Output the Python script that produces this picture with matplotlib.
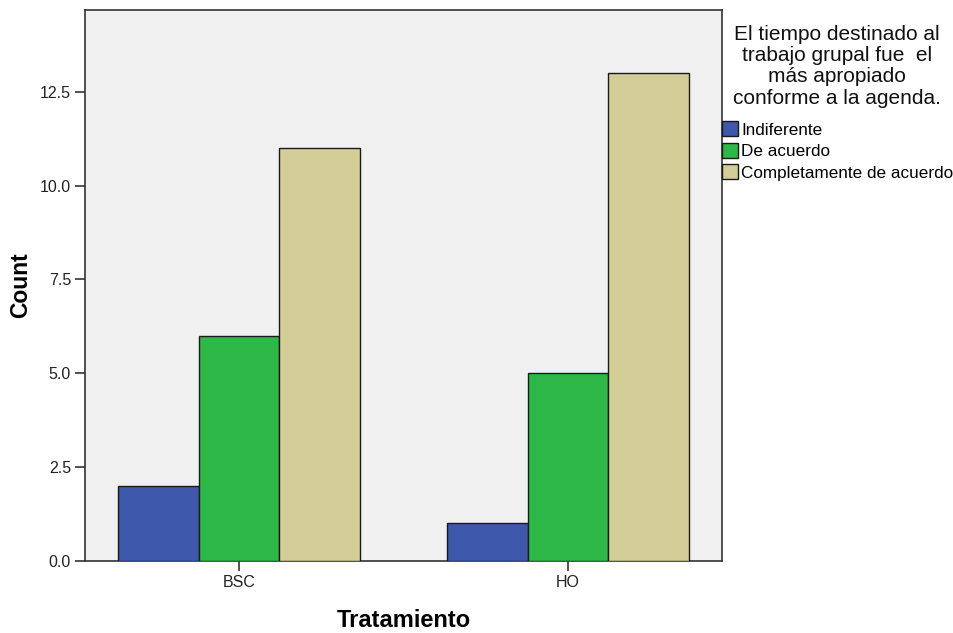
import matplotlib
matplotlib.use("Agg")
import matplotlib.pyplot as plt
import numpy as np

groups = ["BSC", "HO"]
series = ["Indiferente", "De acuerdo", "Completamente de acuerdo"]
values = {
    "Indiferente": [2, 1],
    "De acuerdo": [6, 5],
    "Completamente de acuerdo": [11, 13],
}
colors = ["#3e58ac", "#2eb848", "#d3ce97"]
yticks = [0.0, 2.5, 5.0, 7.5, 10.0, 12.5]
legend_title = "El tiempo destinado al\ntrabajo grupal fue  el\nmás apropiado\nconforme a la agenda."

plt.rcParams['font.family'] = ['Liberation Sans', 'DejaVu Sans']

fig = plt.figure(figsize=(9.54, 6.33), dpi=100)
ax = fig.add_axes([85/954, 1-561/633, (722-85)/954, (561-10)/633])
ax.set_facecolor("#f0f0f0")

x = np.arange(len(groups))
w = 0.246
handles = []
for i, (s, c) in enumerate(zip(series, colors)):
    b = ax.bar(x + (i - 1) * w, values[s], width=w, color=c,
               edgecolor="#1a1a1a", linewidth=1.0, label=s, zorder=3)
    handles.append(b)

ax.set_xlim(-0.468, 1.468)
ax.set_ylim(0, 14.68)
ax.set_xticks(x)
ax.set_xticklabels(groups)
ax.set_yticks(yticks)
ax.set_yticklabels([f"{v:.1f}" for v in yticks])
ax.tick_params(axis='both', length=7, width=1.2, color="#333333",
               labelsize=11.5, labelcolor="#222222", pad=3)
for sp in ax.spines.values():
    sp.set_color("#333333")
    sp.set_linewidth(1.2)

ax.set_ylabel("Count", fontsize=16.5, fontweight="bold", labelpad=6)
ax.set_xlabel("Tratamiento", fontsize=17, fontweight="bold", labelpad=14)

fig.text(837/954, 1-25/633, legend_title, ha="center", va="top",
         fontsize=15, linespacing=1.15, multialignment="center", color="#111111")

leg = ax.legend(handles=handles, labels=series,
                loc="upper left", bbox_to_anchor=(1.0, 0.798),
                frameon=False, fontsize=12.3,
                handlelength=0.96, handleheight=0.96, handletextpad=0.18,
                labelspacing=0.31, borderpad=0.0, borderaxespad=0.0)

fig.savefig("out.png", dpi=100)
